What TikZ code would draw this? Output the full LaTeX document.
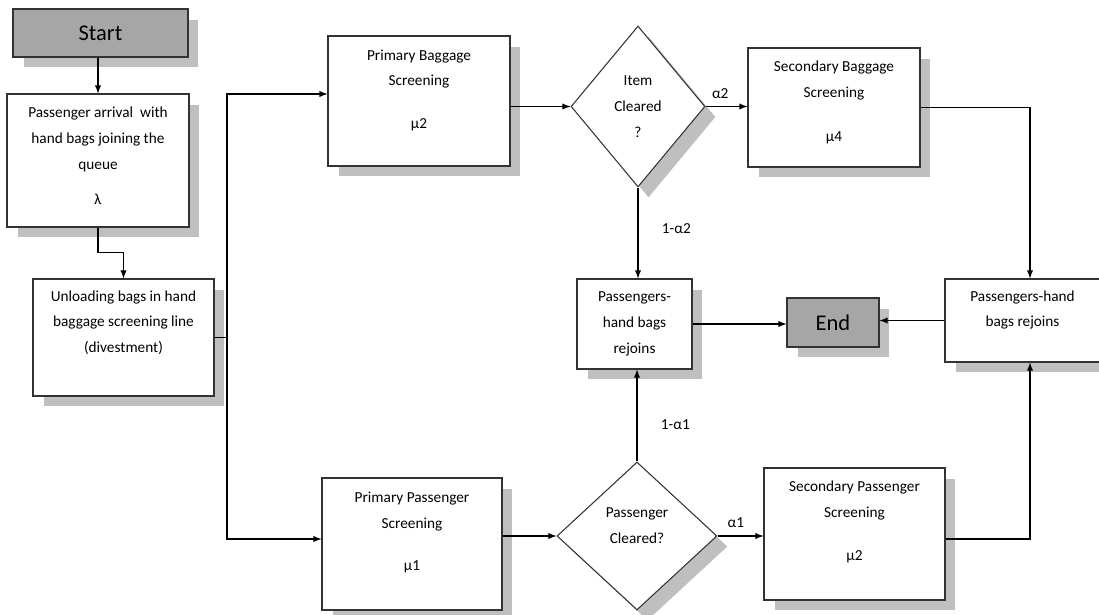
\documentclass[tikz,border=0pt]{standalone}
\usepackage{fontspec}
\setmainfont{Carlito}
\usetikzlibrary{shapes.geometric,shadows}
\tikzset{
  box/.style={draw=black!80, line width=0.6pt, fill=white, align=center, inner sep=1pt,
    drop shadow={shadow xshift=0.21cm, shadow yshift=-0.21cm, fill=black!25, opacity=1}},
  term/.style={box, fill=black!35, font=\fontsize{12.8}{15}\selectfont},
  choice/.style={box, diamond},
}

\begin{document}
\begin{tikzpicture}[x=0.02cm, y=-0.02cm, >=latex, line width=0.6pt,
    font=\fontsize{8.7}{14.7}\selectfont]
      \useasboundingbox (0,0) rectangle (1099,615);

      \node [term, minimum width=3.5cm, minimum height=0.96cm] (1) at (100.5,33) {Start};
      \node [box, minimum width=3.64cm, minimum height=2.66cm, text depth=5pt] (2) at (98,160.5)
        {Passenger arrival\ \ with\\hand bags joining the\\queue\\[5.5pt]λ};
      \node [box, minimum width=3.62cm, minimum height=2.34cm, text depth=18pt] (3) at (123.5,337.5)
        {Unloading bags in hand\\baggage screening line\\(divestment)};
      \node [box, minimum width=3.64cm, minimum height=2.6cm, text depth=13.4pt] (4) at (419,101)
        {Primary Baggage\\Screening\\[9.7pt]μ2};
      \node [choice, minimum width=2.68cm, minimum height=3.22cm] (5) at (638,106.5)
        {Item\\Cleared\\?};
      \node [box, minimum width=3.44cm, minimum height=2.38cm, text depth=7pt] (6) at (834,107.5)
        {Secondary Baggage\\Screening\\[10.8pt]μ4};
      \node [box, minimum width=2.3cm, minimum height=1.8cm] (7) at (634.5,324)
        {Passengers-\\hand bags\\rejoins};
      \node [term, minimum width=1.84cm, minimum height=0.98cm] (8) at (833,322.5) {End};
      \node [box, minimum width=3.1cm, minimum height=1.66cm, text depth=13.4pt] (9) at (1022.5,320.5)
        {Passengers-hand\\bags rejoins};
      \node [box, minimum width=3.6cm, minimum height=2.64cm, text depth=14.5pt] (10) at (412,544)
        {Primary Passenger\\Screening\\[9.7pt]μ1};
      \node [choice, minimum width=3.2cm, minimum height=2.96cm, text depth=11.6pt] (11) at (637,536)
        {Passenger\\Cleared?};
      \node [box, minimum width=3.62cm, minimum height=2.64cm, text depth=15pt] (12) at (854.5,534)
        {Secondary Passenger\\Screening\\[10pt]μ2};
      \coordinate (13) at (227,337.5);

      \draw[->] (2.north |- 1.south) -- (2.north);
      \draw[->] (2.south) -- ++(0,25) -| (3.north);
      \draw (3.east) -- (13);
      \draw[->] (13) |- ([yshift=0.14cm]4.west);
      \draw[->] (13) |- ([yshift=0.1cm]10.west);
      \draw[->] (4.east |- 5.west) -- (5.west);
      \draw[->] (5.east) -- node[above=1pt, pos=0.35] {α2} (6.west |- 5.east);
      \draw[->] (5.south) -- node[right=10pt, pos=0.45] {1-α2} (5.south |- 7.north);
      \draw[->] (6.east) -| ([xshift=0.15cm]9.north);
      \draw[->] (7.east) -- (8.west |- 7.east);
      \draw[->] (9.west) -- (8.east |- 9.west);
      \draw[->] (10.east |- 11.west) -- (11.west);
      \draw[->] (11.north) -- node[right=10pt, pos=0.4] {1-α1} (11.north |- 7.south);
      \draw[->] (11.east) -- node[above=1pt, pos=0.4] {α1} (11.east -| 12.west);
      \draw[->] ([yshift=-0.1cm]12.east) -| ([xshift=0.15cm]9.south);
    \end{tikzpicture}
\end{document}
